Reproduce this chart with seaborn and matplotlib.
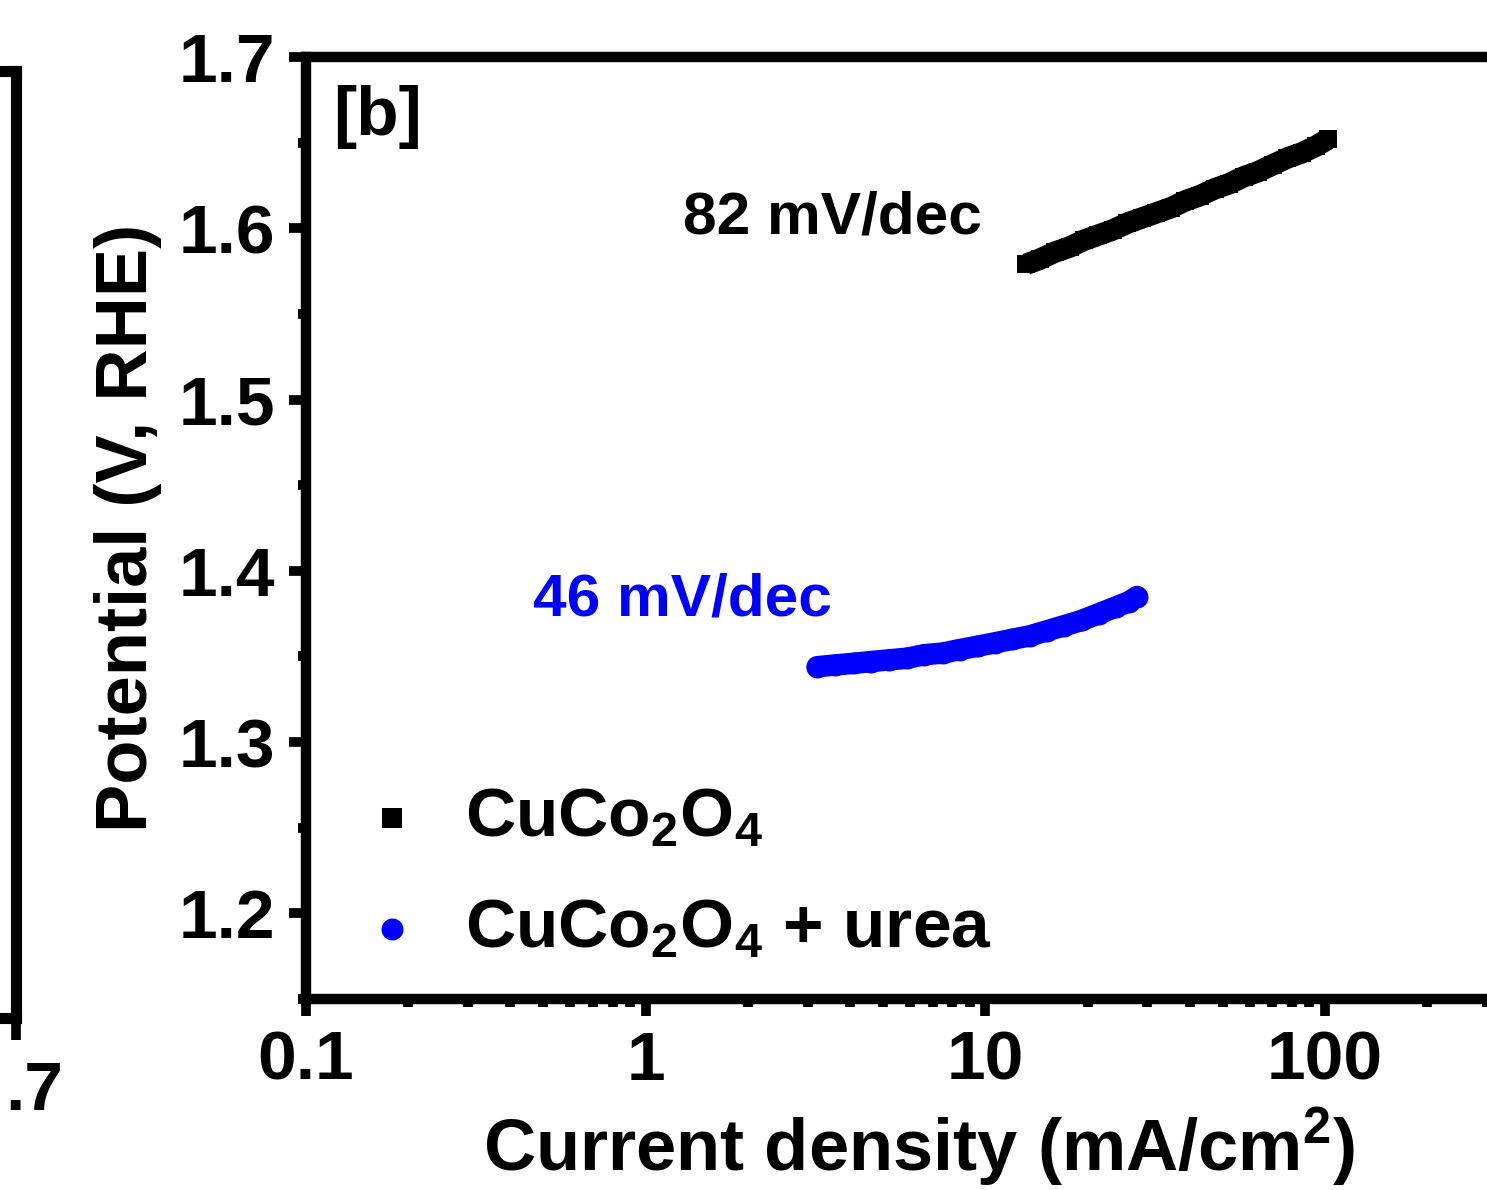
import numpy as np
import pandas as pd
import matplotlib
matplotlib.use("Agg")
import matplotlib.pyplot as plt
import seaborn as sns
from matplotlib.ticker import FixedLocator, FixedFormatter, MultipleLocator, NullFormatter, LogLocator

# ---------------- data ----------------
cu_j = [13.2, 14.5, 16.0, 17.7, 19.5, 21.5, 23.7, 26.2, 28.9, 31.9, 35.2,
        38.8, 42.8, 47.3, 52.2, 57.6, 63.5, 70.1, 77.4, 85.4, 94.2, 102.0]
cu_E = [1.579, 1.582, 1.586, 1.589, 1.593, 1.596, 1.599, 1.603, 1.606, 1.609, 1.612,
        1.616, 1.619, 1.623, 1.626, 1.630, 1.633, 1.637, 1.641, 1.644, 1.648, 1.652]

urea_j = [3.2, 3.6, 4.1, 4.6, 5.2, 5.9, 6.6, 7.5, 8.4, 9.5, 10.7,
          12.0, 13.5, 15.2, 17.1, 19.2, 21.6, 24.3, 26.5, 28.0]
urea_E = [1.344, 1.345, 1.346, 1.347, 1.348, 1.349, 1.351, 1.352, 1.354, 1.356, 1.358,
          1.360, 1.362, 1.365, 1.368, 1.371, 1.375, 1.379, 1.382, 1.385]

series_names = ["CuCo2O4", "CuCo2O4 + urea"]
legend_labels = ["CuCo$_2$O$_4$", "CuCo$_2$O$_4$ + urea"]
series_colors = ["#000000", "#0000ff"]
slope_texts = ["82 mV/dec", "46 mV/dec"]

x_ticks = [0.1, 1, 10, 100]
x_tick_labels = ["0.1", "1", "10", "100"]
y_ticks = [1.2, 1.3, 1.4, 1.5, 1.6, 1.7]
y_tick_labels = ["1.2", "1.3", "1.4", "1.5", "1.6", "1.7"]
left_panel_tick = [1.7]
left_panel_tick_label = ".7"

df = pd.concat([
    pd.DataFrame({"j": cu_j, "E": cu_E, "series": series_names[0]}),
    pd.DataFrame({"j": urea_j, "E": urea_E, "series": series_names[1]}),
], ignore_index=True)

# ---------------- style ----------------
sns.set_theme(style="ticks")
plt.rcParams["font.family"] = ["Liberation Sans", "DejaVu Sans"]
plt.rcParams["font.weight"] = "bold"
plt.rcParams["axes.labelweight"] = "bold"
plt.rcParams["text.color"] = "black"
plt.rcParams["axes.labelcolor"] = "black"
plt.rcParams["xtick.color"] = "black"
plt.rcParams["ytick.color"] = "black"
plt.rcParams["axes.edgecolor"] = "black"
plt.rcParams["mathtext.fontset"] = "custom"
plt.rcParams["mathtext.rm"] = "Liberation Sans:bold"
plt.rcParams["mathtext.bf"] = "Liberation Sans:bold"
plt.rcParams["mathtext.it"] = "Liberation Sans:bold:italic"
plt.rcParams["mathtext.default"] = "bf"

FS = 50

fig = plt.figure(figsize=(14.87, 11.9), dpi=100)

# ---- remnant of the neighbouring panel on the left ----
ax0 = fig.add_axes([-0.5, 1 - 1018 / 1190, 0.5 + 16 / 1487, (1018 - 71) / 1190])
ax0.set_xlim(0.0, 1.7)
ax0.set_ylim(0, 1)
ax0.xaxis.set_major_locator(FixedLocator(left_panel_tick))
ax0.xaxis.set_major_formatter(NullFormatter())
ax0.set_yticks([])
for s in ["top", "right", "bottom", "left"]:
    ax0.spines[s].set_linewidth(8)
    ax0.spines[s].set_color("black")
ax0.tick_params(axis="x", direction="out", length=16, width=7, colors="black")
fig.text(5 / 1487, 1 - 1110 / 1190, left_panel_tick_label, fontsize=FS, fontweight="bold",
         ha="left", va="baseline", color="black")

# ---- main panel ----
ax = fig.add_axes([306 / 1487, 1 - 999 / 1190, 1 - 306 / 1487, (999 - 57) / 1190])
ax.set_xscale("log")

line_w = [15.5, 15.5]
caps = ["butt", "round"]
marks = ["s", "o"]
sizes = [150, 250]
for name, col, lw, cap in zip(series_names, series_colors, line_w, caps):
    sns.lineplot(data=df[df["series"] == name], x="j", y="E", color=col, lw=lw,
                 solid_capstyle=cap, ax=ax, legend=False, estimator=None, sort=True)
for name, lab, col, mk, sz in zip(series_names, legend_labels, series_colors, marks, sizes):
    sns.scatterplot(data=df[df["series"] == name], x="j", y="E", color=col, marker=mk,
                    s=sz, linewidth=0, ax=ax, label=lab, zorder=3)

ax.set_xlim(0.1, 300)
ax.set_ylim(1.15, 1.7)
ax.xaxis.set_major_locator(FixedLocator(x_ticks))
ax.xaxis.set_major_formatter(FixedFormatter(x_tick_labels))
ax.xaxis.set_minor_locator(LogLocator(base=10, subs=np.arange(2, 10)))
ax.xaxis.set_minor_formatter(NullFormatter())
ax.yaxis.set_major_locator(FixedLocator(y_ticks))
ax.yaxis.set_major_formatter(FixedFormatter(y_tick_labels))
ax.yaxis.set_minor_locator(MultipleLocator(0.05))

for s in ["top", "bottom", "left"]:
    ax.spines[s].set_linewidth(7.5)
    ax.spines[s].set_color("black")
ax.spines["right"].set_visible(False)

ax.tick_params(which="major", direction="out", length=12, width=7, labelsize=FS, pad=10, colors="black")
ax.tick_params(which="minor", direction="out", length=6, width=7, colors="black")
ax.tick_params(top=False, right=False, which="both")

ax.set_xlabel("Current density (mA/cm$^2$)", fontsize=52, fontweight="bold", color="black")
ax.set_ylabel("Potential (V, RHE)", fontsize=52, fontweight="bold", color="black")
ax.xaxis.set_label_coords(0.519, -0.113)
ax.yaxis.set_label_coords(-0.122, 0.5)

ax.text(0.0229, 0.97, "[b]", transform=ax.transAxes, fontsize=FS, fontweight="bold",
        ha="left", va="top", color="black")
ax.text(0.319, 0.813, slope_texts[0], transform=ax.transAxes, fontsize=43.5, fontweight="bold",
        color=series_colors[0], ha="left", va="baseline")
ax.text(0.192, 0.4066, slope_texts[1], transform=ax.transAxes, fontsize=43.5, fontweight="bold",
        color=series_colors[1], ha="left", va="baseline")

leg = ax.legend(loc="upper left", bbox_to_anchor=(0.0584, 0.226), frameon=False, fontsize=FS,
                handlelength=0.5, handletextpad=0.8, borderpad=0, borderaxespad=0,
                labelspacing=0.68)
for t in leg.get_texts():
    t.set_color("black")
for h, sz in zip(leg.legend_handles, [210, 250]):
    h.set_sizes([sz])

fig.savefig("out.png", dpi=100)
